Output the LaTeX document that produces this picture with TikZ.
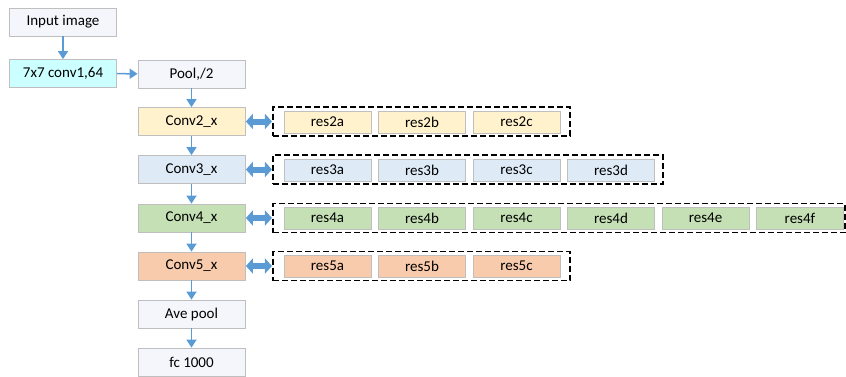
\documentclass[tikz,border=0pt]{standalone}
\usepackage{fontspec}
\setmainfont{Carlito}
\usetikzlibrary{arrows.meta}
\definecolor{ablue}{HTML}{5B9BD5}
\definecolor{bgray}{HTML}{BFBFBF}
\definecolor{cwhite}{HTML}{F4F6FB}
\definecolor{ccyan}{HTML}{CCFFFF}
\definecolor{cyel}{HTML}{FFF2CC}
\definecolor{cblu}{HTML}{DEEBF7}
\definecolor{cgrn}{HTML}{C5E0B4}
\definecolor{corg}{HTML}{F8CBAD}
\tikzset{
  mainbox/.style={draw=bgray, line width=0.8pt, minimum width=107pt, minimum height=28pt, inner sep=0pt, font=\fontsize{15}{18}\selectfont},
  resbox/.style={draw=bgray, line width=0.8pt, minimum width=87pt, minimum height=22pt, inner sep=0pt, font=\fontsize{15}{18}\selectfont},
  dashbox/.style={draw=black, line width=1.1pt, dash pattern=on 6pt off 3pt, inner sep=0pt, minimum height=29pt},
  flow/.style={draw=ablue, line width=1.5pt, -{Triangle[width=10pt,length=8pt]}},
  link/.style={draw=ablue, line width=6pt, {Triangle[width=15pt,length=7pt]}-{Triangle[width=15pt,length=7pt]}, shorten <=0.5pt, shorten >=0.5pt}
}
\begin{document}
\begin{tikzpicture}[x=1pt,y=-1pt]
\useasboundingbox (0,0) rectangle (846,376);
% left column
\node[mainbox, fill=cwhite] (inp) at (63,22) {Input image};
\node[mainbox, fill=ccyan] (conv1) at (63,73.5) {7x7 conv1,64};
\node[mainbox, fill=cwhite] (pool) at (191.5,74) {Pool,/2};
\node[mainbox, fill=cyel] (c2) at (191.5,121.5) {Conv2\_x};
\node[mainbox, fill=cblu] (c3) at (191.5,169.5) {Conv3\_x};
\node[mainbox, fill=cgrn] (c4) at (191.5,218) {Conv4\_x};
\node[mainbox, fill=corg] (c5) at (191.5,266) {Conv5\_x};
\node[mainbox, fill=cwhite] (ave) at (191.5,314) {Ave pool};
\node[mainbox, fill=cwhite] (fc) at (191.5,362) {fc 1000};
\draw[flow] (inp) -- (conv1);
\draw[flow] (conv1) -- (pool);
\draw[flow] (pool) -- (c2);
\draw[flow] (c2) -- (c3);
\draw[flow] (c3) -- (c4);
\draw[flow] (c4) -- (c5);
\draw[flow] (c5) -- (ave);
\draw[flow] (ave) -- (fc);
% dashed groups
\node[dashbox, minimum width=297pt] (g2) at (421.5,121.5) {};
\node[dashbox, minimum width=390pt] (g3) at (468,169.5) {};
\node[dashbox, minimum width=572pt] (g4) at (559,218) {};
\node[dashbox, minimum width=297pt] (g5) at (421.5,266) {};
% res blocks
\node[resbox, fill=cyel] (r2a) at (327.5,122) {res2a};
\node[resbox, fill=cyel] (r2b) at (422,122) {res2b};
\node[resbox, fill=cyel] (r2c) at (516.5,122) {res2c};
\node[resbox, fill=cblu] (r3a) at (327.5,170) {res3a};
\node[resbox, fill=cblu] (r3b) at (422,170) {res3b};
\node[resbox, fill=cblu] (r3c) at (516.5,170) {res3c};
\node[resbox, fill=cblu] (r3d) at (611,170) {res3d};
\node[resbox, fill=cgrn] (r4a) at (327.5,218) {res4a};
\node[resbox, fill=cgrn] (r4b) at (422,218) {res4b};
\node[resbox, fill=cgrn] (r4c) at (516.5,218) {res4c};
\node[resbox, fill=cgrn] (r4d) at (611,218) {res4d};
\node[resbox, fill=cgrn] (r4e) at (705.5,218) {res4e};
\node[resbox, fill=cgrn] (r4f) at (800,218) {res4f};
\node[resbox, fill=corg] (r5a) at (327.5,266) {res5a};
\node[resbox, fill=corg] (r5b) at (422,266) {res5b};
\node[resbox, fill=corg] (r5c) at (516.5,266) {res5c};
% double arrows
\draw[link] (c2.east) -- (g2.west);
\draw[link] (c3.east) -- (g3.west);
\draw[link] (c4.east) -- (g4.west);
\draw[link] (c5.east) -- (g5.west);
\end{tikzpicture}
\end{document}
